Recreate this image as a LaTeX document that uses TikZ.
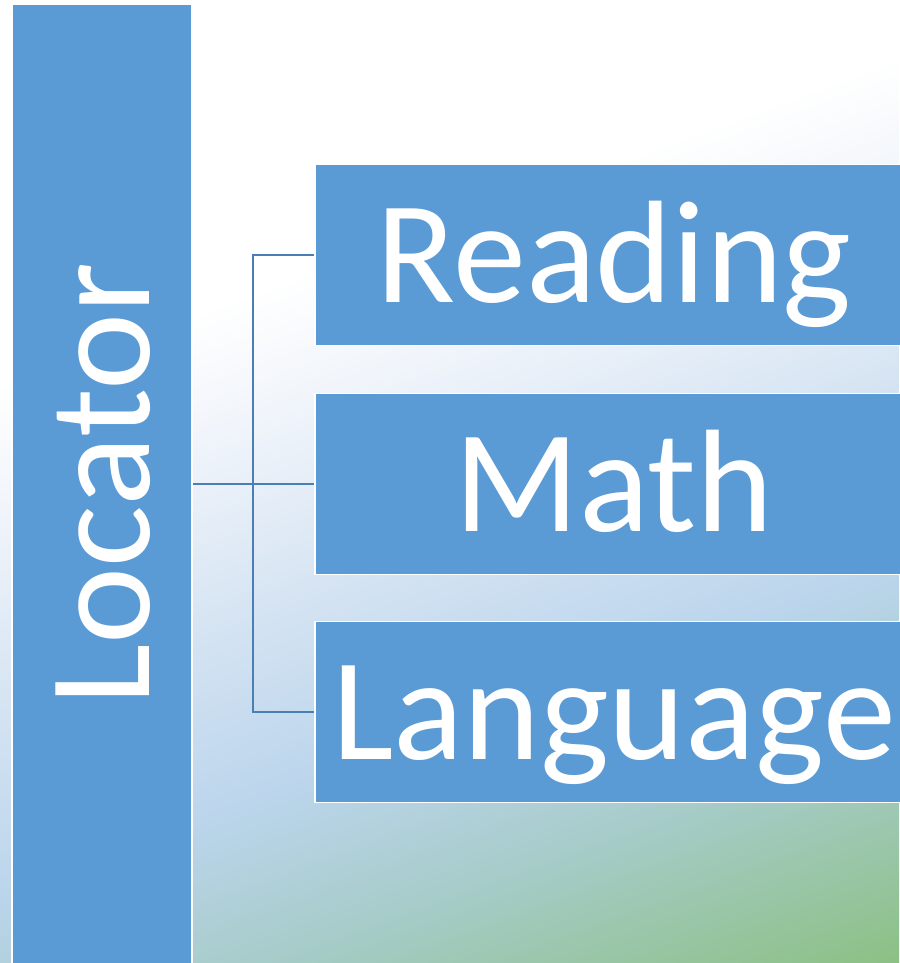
\documentclass[tikz,border=0pt]{standalone}
\usepackage{fontspec}
\setmainfont{Carlito}
\definecolor{boxblue}{HTML}{5B9BD5}
\definecolor{linkblue}{HTML}{4A7EB4}
\definecolor{bgA}{HTML}{EEF3FA}
\definecolor{bgB}{HTML}{D4E3F2}
\definecolor{bgC}{HTML}{BBD5EC}
\definecolor{bgD}{HTML}{A5CBC6}
\definecolor{bgE}{HTML}{8CC084}
\begin{document}
\begin{tikzpicture}[x=1pt,y=-1pt,
  box/.style={draw=white, line width=1.5pt, fill=boxblue, text=white, inner sep=0pt,
    font=\fontsize{146}{146}\selectfont, text height=95pt, text depth=0pt},
  link/.style={draw=linkblue, line width=2.4pt}]
\useasboundingbox (0,0) rectangle (899,963);
\begin{scope}
\clip (0,0) rectangle (899,963);
\fill[white] (0,0) rectangle (899,963);
\begin{scope}[transform canvas={rotate=20}]
\shade[top color=white, bottom color=bgA] (-600,359.5) rectangle (1100,500.5);
\shade[top color=bgA, bottom color=bgB] (-600,499.5) rectangle (1100,670.5);
\shade[top color=bgB, bottom color=bgC] (-600,669.5) rectangle (1100,840.5);
\shade[top color=bgC, bottom color=bgD] (-600,839.5) rectangle (1100,1005.5);
\shade[top color=bgD, bottom color=bgE] (-600,1004.5) rectangle (1100,1212.5);
\fill[bgE] (-600,1212) rectangle (1100,1500);
\end{scope}
\end{scope}
\node[box, rotate=90, minimum width=960pt, minimum height=180pt] (loc) at (102,484) {Locator};
\node[box, minimum width=598pt, minimum height=181pt] (r) at (614,255) {Reading};
\node[box, minimum width=598pt, minimum height=181pt] (m) at (614,484) {Math};
\node[box, minimum width=598pt, minimum height=181pt] (l) at (614,712) {Language};
\coordinate (j) at (253,484);
\draw[link] (loc) -- (j);
\draw[link] (j) |- (r.west);
\draw[link] (j) -- (m.west);
\draw[link] (j) |- (l.west);
\end{tikzpicture}
\end{document}
